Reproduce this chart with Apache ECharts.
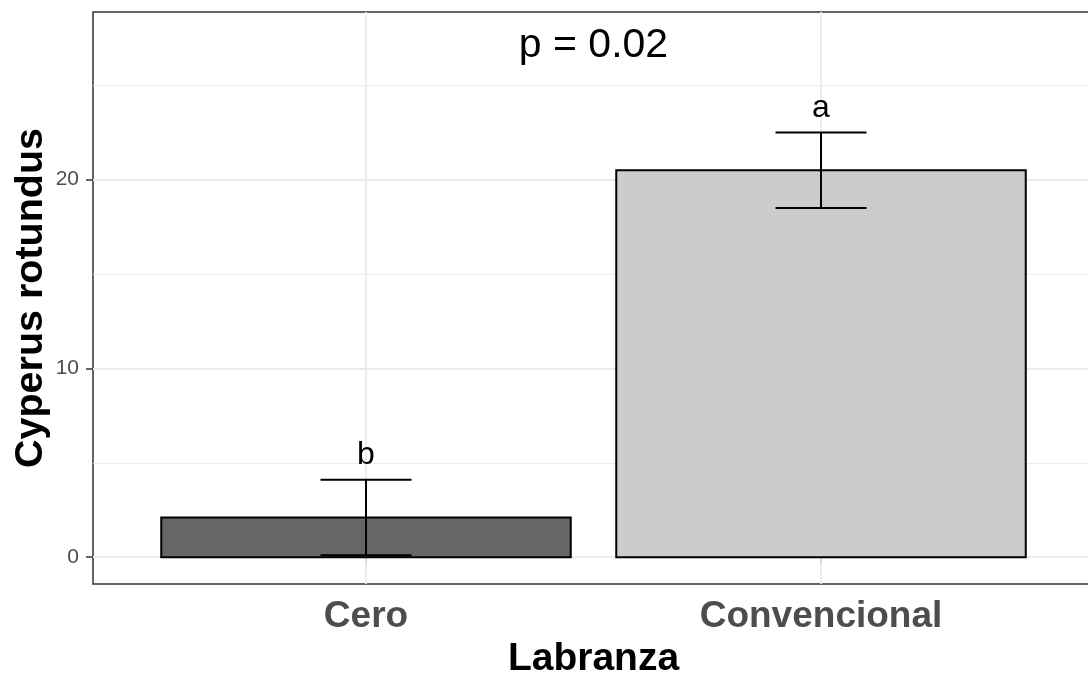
<!DOCTYPE html>
<html>
<head>
<meta charset="utf-8">
<script src="https://cdn.jsdelivr.net/npm/echarts@6/dist/echarts.min.js"></script>
<style>
html,body{margin:0;padding:0;background:#fff;}
#chart{width:1088px;height:679px;}
</style>
</head>
<body>
<div id="chart"></div>
<script>
// ---- data ----
const categories = ['Cero', 'Convencional'];
const means = [2.1, 20.5];
const lowers = [0.1, 18.5];
const uppers = [4.1, 22.5];
const letters = ['b', 'a'];
const yTicks = [0, 10, 20];
const yMinorGrid = [5, 15, 25];
const pLabel = 'p = 0.02';

// ---- styles ----
const barColors = ['#666666', '#CCCCCC'];
const FONT = '"Liberation Sans", Arial, sans-serif';

const xCenters = categories.map((c, i) => i + 1);
const barData = categories.map((c, i) => [xCenters[i], means[i], lowers[i], uppers[i]]);

const chart = echarts.init(document.getElementById('chart'), null, {renderer: 'canvas'});

const gridLines = [];
yTicks.forEach(v => gridLines.push({yAxis: v, lineStyle: {color: '#EBEBEB', width: 1.8, type: 'solid'}}));
yMinorGrid.forEach(v => gridLines.push({yAxis: v, lineStyle: {color: '#EBEBEB', width: 0.9, type: 'solid'}}));
xCenters.forEach(v => gridLines.push({xAxis: v, lineStyle: {color: '#EBEBEB', width: 1.8, type: 'solid'}}));

const option = {
  animation: false,
  backgroundColor: '#ffffff',
  grid: {
    left: 93, top: 12, width: 1001, height: 572,
    outerBoundsMode: 'none', containLabel: false,
    show: true, borderColor: '#333333', borderWidth: 1.5, backgroundColor: 'transparent'
  },
  xAxis: {
    type: 'value', min: 0.4, max: 2.6,
    name: 'Labranza', nameLocation: 'middle', nameGap: 56,
    nameTextStyle: {fontSize: 39, fontWeight: 'bold', color: '#000', fontFamily: FONT},
    axisLine: {show: false},
    splitLine: {show: false},
    axisTick: {show: true, customValues: xCenters, length: 7, lineStyle: {color: '#333333', width: 1.5}},
    axisLabel: {
      customValues: xCenters, margin: 14,
      fontSize: 37, fontWeight: 'bold', color: '#4D4D4D', fontFamily: FONT,
      formatter: v => categories[Math.round(v) - 1] || ''
    }
  },
  yAxis: {
    type: 'value', min: -1.42, max: 28.88,
    name: 'Cyperus rotundus', nameLocation: 'middle', nameGap: 42, nameMoveOverlap: false,
    nameTextStyle: {fontSize: 39.5, fontWeight: 'bold', color: '#000', fontFamily: FONT},
    axisLine: {show: false},
    splitLine: {show: false},
    axisTick: {show: true, customValues: yTicks, length: 7, lineStyle: {color: '#333333', width: 1.5}},
    axisLabel: {customValues: yTicks, margin: 14, fontSize: 21, color: '#4D4D4D', fontFamily: FONT}
  },
  series: [
    {
      type: 'line', data: [], z: 1, silent: true,
      markLine: {silent: true, symbol: 'none', label: {show: false}, animation: false, data: gridLines}
    },
    {
      type: 'custom', z: 5, data: barData, silent: true,
      renderItem: function (params, api) {
        const i = params.dataIndex;
        const x = api.value(0), m = api.value(1), lo = api.value(2), hi = api.value(3);
        const p0 = api.coord([x - 0.45, m]);
        const p1 = api.coord([x + 0.45, 0]);
        const top = api.coord([x, hi]);
        const bot = api.coord([x, lo]);
        const capL = api.coord([x - 0.1, hi]);
        const capR = api.coord([x + 0.1, hi]);
        const lab = api.coord([x, hi + 1.3]);
        const ls = {stroke: '#000', lineWidth: 2};
        return {
          type: 'group',
          children: [
            {type: 'rect', shape: {x: p0[0], y: p0[1], width: p1[0] - p0[0], height: p1[1] - p0[1]},
             style: {fill: barColors[i], stroke: '#000', lineWidth: 2}},
            {type: 'line', shape: {x1: top[0], y1: top[1], x2: bot[0], y2: bot[1]}, style: ls},
            {type: 'line', shape: {x1: capL[0], y1: top[1], x2: capR[0], y2: top[1]}, style: ls},
            {type: 'line', shape: {x1: capL[0], y1: bot[1], x2: capR[0], y2: bot[1]}, style: ls},
            {type: 'text', x: lab[0], y: lab[1],
             style: {text: letters[i], fill: '#000', fontSize: 32, fontFamily: FONT, align: 'center', verticalAlign: 'middle'}}
          ]
        };
      }
    },
    {
      type: 'custom', z: 6, data: [[1.5, 27.1]], silent: true,
      renderItem: function (params, api) {
        const p = api.coord([api.value(0), api.value(1)]);
        return {type: 'text', x: p[0], y: p[1],
          style: {text: pLabel, fill: '#000', fontSize: 41, fontFamily: FONT, align: 'center', verticalAlign: 'middle'}};
      }
    }
  ]
};
chart.setOption(option);
</script>
</body>
</html>
